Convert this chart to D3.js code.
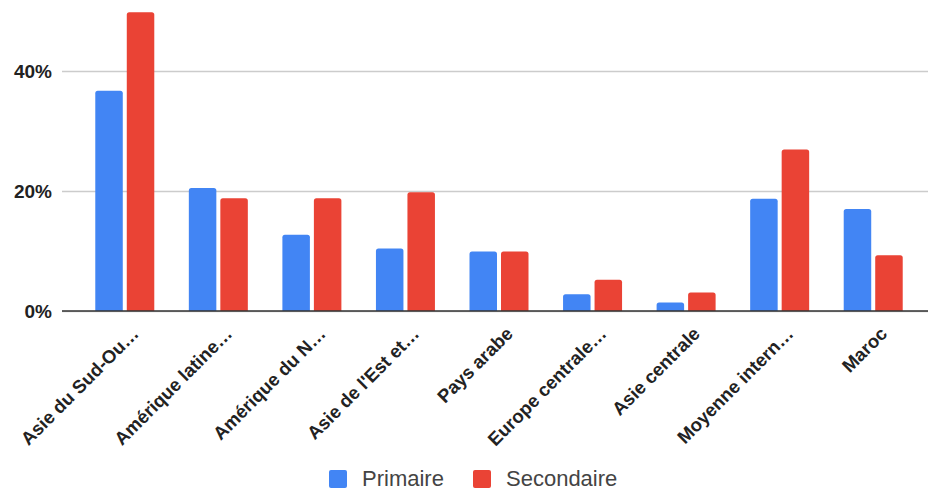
<!DOCTYPE html>
<html>
<head>
<meta charset="utf-8">
<script src="https://cdn.jsdelivr.net/npm/d3@7"></script>
<style>
  html, body { margin: 0; padding: 0; background: #fff; }
  svg { display: block; font-family: "Liberation Sans", Arial, sans-serif; }
</style>
</head>
<body>
<svg id="chart" width="928" height="492"></svg>
<script>
// Regions (axis labels as displayed, truncated)
const categories = [
  "Asie du Sud-Ou…", "Amérique latine…", "Amérique du N…", "Asie de l'Est et…",
  "Pays arabe", "Europe centrale…", "Asie centrale", "Moyenne intern…", "Maroc"
];
const seriesNames = ["Primaire", "Secondaire"];
const primaire   = [0.367, 0.205, 0.127, 0.104, 0.099, 0.028, 0.014, 0.187, 0.170];
const secondaire = [0.498, 0.188, 0.188, 0.198, 0.099, 0.052, 0.031, 0.269, 0.093];
const yTicks = [0, 0.2, 0.4];
const colors = ["#4285F4", "#EA4335"];

const svg = d3.select("#chart");
const W = 928;
const plot = { left: 78, right: 920, top: 11, bottom: 311 };

const x0 = d3.scaleBand().domain(categories).range([plot.left, plot.right]).padding(0);
const x1 = d3.scaleBand().domain(seriesNames)
  .range([(x0.bandwidth() - 59) / 2, (x0.bandwidth() + 59) / 2])
  .paddingInner(0.127).paddingOuter(0);
const y = d3.scaleLinear().domain([0, 0.5]).range([plot.bottom, plot.top]);
const color = d3.scaleOrdinal().domain(seriesNames).range(colors);

// Gridlines and y labels
const yAxis = d3.axisLeft(y).tickValues(yTicks).tickFormat(d3.format(".0%"))
  .tickSize(-(W - 62)).tickPadding(10);
const gy = svg.append("g").attr("transform", "translate(62,0)").call(yAxis);
gy.select(".domain").remove();
gy.selectAll(".tick line").attr("stroke", "#cccccc").attr("stroke-width", 1.3);
gy.selectAll(".tick text")
  .attr("fill", "#222").attr("font-size", 19).attr("font-weight", "bold")
  .attr("x", -10).attr("dy", "0.35em");

// Bars with slightly rounded tops
const rows = categories.map((c, i) => ({ cat: c, vals: [primaire[i], secondaire[i]] }));
const r = 2.5;
function barPath(x, w, yTop, yBase) {
  const rr = Math.min(r, (yBase - yTop));
  return `M${x},${yBase}V${yTop + rr}Q${x},${yTop} ${x + rr},${yTop}H${x + w - rr}Q${x + w},${yTop} ${x + w},${yTop + rr}V${yBase}Z`;
}
svg.append("g").selectAll("g").data(rows).join("g")
  .attr("transform", d => `translate(${x0(d.cat)},0)`)
  .selectAll("path")
  .data(d => d.vals.map((v, j) => ({ key: seriesNames[j], value: v })))
  .join("path")
  .attr("fill", d => color(d.key))
  .attr("d", d => barPath(x1(d.key), x1.bandwidth(), y(d.value), y(0)));

// Baseline
svg.append("line")
  .attr("x1", 62).attr("x2", W).attr("y1", y(0)).attr("y2", y(0))
  .attr("stroke", "#333").attr("stroke-width", 1.5);

// X labels, rotated
const xAxis = d3.axisBottom(x0).tickSize(0).tickPadding(0);
const gx = svg.append("g").attr("transform", `translate(0,${plot.bottom})`).call(xAxis);
gx.select(".domain").remove();
gx.selectAll(".tick text")
  .attr("fill", "#222").attr("font-size", 18.5).attr("font-weight", "bold")
  .attr("text-anchor", "end")
  .attr("y", 0).attr("dy", 0)
  .attr("transform", "translate(15,24) rotate(-45)");

// Legend
const legend = svg.append("g").attr("transform", "translate(329,470)");
const items = [{ name: "Primaire", x: 0 }, { name: "Secondaire", x: 144 }];
const li = legend.selectAll("g").data(items).join("g").attr("transform", d => `translate(${d.x},0)`);
li.append("rect").attr("width", 18).attr("height", 18).attr("rx", 2)
  .attr("fill", d => color(d.name));
li.append("text").attr("x", 33).attr("y", 16).attr("font-size", 22)
  .attr("fill", "#444").text(d => d.name);
</script>
</body>
</html>
